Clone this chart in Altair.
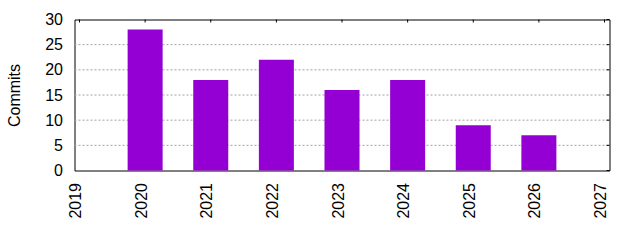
import altair as alt
import pandas as pd

years = [2020, 2021, 2022, 2023, 2024, 2025, 2026]
commits = [28, 18, 22, 16, 18, 9, 7]
x_ticks = [2019, 2020, 2021, 2022, 2023, 2024, 2025, 2026, 2027]
y_ticks = [0, 5, 10, 15, 20, 25, 30]
grid_vals = [5, 10, 15, 20, 25]

W, H = 535, 151
FONT = "Liberation Sans"
FS = 16

bars_df = pd.DataFrame({"year": years, "commits": commits})
xt_df = pd.DataFrame({"year": x_ticks})
yt_df = pd.DataFrame({"v": y_ticks})
grid_df = pd.DataFrame({"v": grid_vals})

xscale = alt.Scale(domain=[2019, 2027], nice=False, zero=False)
yscale = alt.Scale(domain=[0, 30], nice=False)

xaxis = alt.Axis(values=x_ticks, format="d", title=None, grid=False, ticks=False,
                 domain=False, labelAngle=270, labelAlign="right", labelBaseline="middle",
                 labelPadding=12, labelOffset=-4, labelFont=FONT, labelFontSize=FS,
                 labelColor="black", labelOverlap=False, labelFlush=False)
yaxis = alt.Axis(values=y_ticks, title="Commits", grid=False, ticks=False, domain=False,
                 labelPadding=12, labelFont=FONT, labelFontSize=FS, labelColor="black",
                 labelOverlap=False, labelFlush=False,
                 titleFont=FONT, titleFontSize=FS, titleFontWeight="normal", titleColor="black",
                 titleAngle=270, titleX=-60, titleY=H / 2, titleAlign="center",
                 titleBaseline="middle")

grid = alt.Chart(grid_df).mark_rule(color="#a0a0a0", strokeDash=[2, 2], strokeWidth=1).encode(
    y=alt.Y("v:Q", scale=yscale, axis=yaxis),
    x=alt.value(0), x2=alt.value(W),
)

bars = alt.Chart(bars_df).mark_bar(size=35, color="#9400d3").encode(
    x=alt.X("year:Q", scale=xscale, axis=xaxis),
    y=alt.Y("commits:Q", scale=yscale, axis=yaxis),
)

top_ticks = alt.Chart(xt_df).mark_rule(color="black", strokeWidth=1).encode(
    x=alt.X("year:Q", scale=xscale, axis=xaxis),
    y=alt.value(0), y2=alt.value(3),
)

right_ticks = alt.Chart(yt_df).mark_rule(color="black", strokeWidth=1).encode(
    y=alt.Y("v:Q", scale=yscale, axis=yaxis),
    x=alt.value(W - 3), x2=alt.value(W),
)

chart = alt.layer(grid, bars, top_ticks, right_ticks).properties(
    width=W, height=H,
    autosize=alt.AutoSizeParams(type="none"),
    padding={"left": 74.5, "top": 19.5, "right": 640 - 74.5 - W, "bottom": 240 - 19.5 - H},
    background="white",
).configure_view(stroke="black", strokeWidth=1)

chart.save("out.html", embed_options={"renderer": "svg", "actions": False})
